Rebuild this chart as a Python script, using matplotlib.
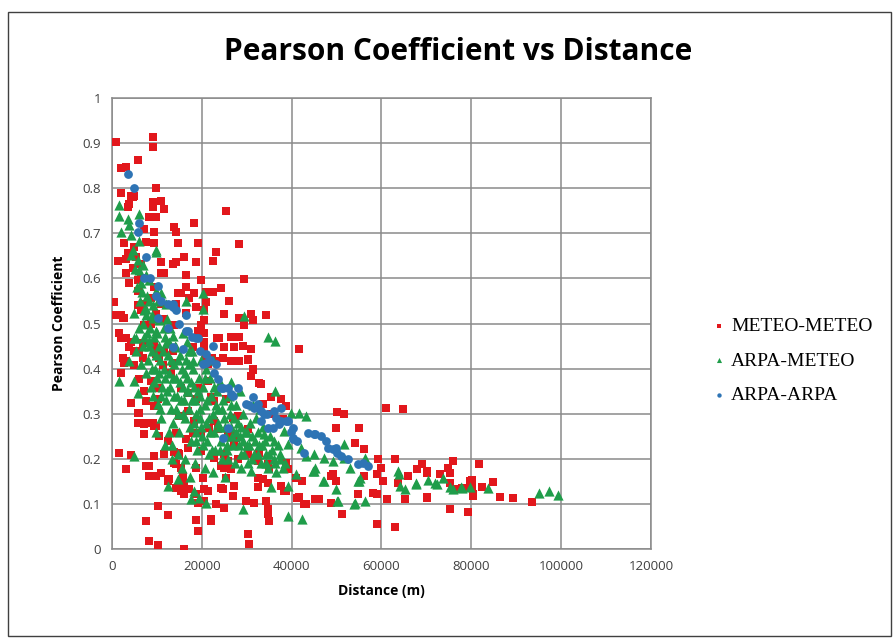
import matplotlib.pyplot as plt
from matplotlib.patches import Rectangle

# (distance m, pearson coefficient)
meteo_pts = [
    (900, 0.902), (9100, 0.913), (9100, 0.891), (5800, 0.862), (2000, 0.844), (3100, 0.847),
    (9800, 0.80), (2000, 0.789), (4200, 0.782), (4900, 0.782), (3800, 0.764), (9100, 0.769),
    (9100, 0.758), (10900, 0.771), (11600, 0.753), (8200, 0.736), (9800, 0.736), (18200, 0.722),
    (13800, 0.713), (14200, 0.702), (9300, 0.702), (7100, 0.709), (2700, 0.678), (7600, 0.68),
    (9300, 0.678), (14700, 0.678), (19100, 0.678), (23100, 0.658), (25300, 0.749), (28200, 0.676),
    (22400, 0.638), (29300, 0.598), (16000, 0.647), (13600, 0.633), (10900, 0.636), (1300, 0.638),
    (16400, 0.607), (19800, 0.596), (24200, 0.578), (21600, 0.569), (22400, 0.569), (26000, 0.551),
    (24900, 0.522), (30900, 0.522), (34200, 0.518), (400, 0.547), (2400, 0.513), (4700, 0.78),
    (3600, 0.758), (4900, 0.669), (3600, 0.656), (5300, 0.647), (4700, 0.624), (6400, 0.633),
    (3100, 0.613), (6400, 0.602), (3800, 0.589), (5800, 0.573), (9300, 0.58), (8700, 0.556),
    (6900, 0.544), (10900, 0.544), (14200, 0.544), (15300, 0.567), (17100, 0.556), (20400, 0.529),
    (18700, 0.536), (16400, 0.524), (20900, 0.547), (3100, 0.644), (14200, 0.636), (18700, 0.636),
    (11600, 0.611), (10900, 0.611), (5800, 0.596), (20900, 0.569), (18200, 0.567), (14700, 0.567),
    (16400, 0.58), (5800, 0.54), (2700, 0.513), (1600, 0.478), (2700, 0.467), (4200, 0.458),
    (6900, 0.456), (4900, 0.44), (6000, 0.44), (9300, 0.451), (10400, 0.424), (6900, 0.424),
    (3100, 0.418), (20900, 0.424), (23100, 0.418), (20400, 0.507), (20400, 0.48), (20400, 0.46),
    (23800, 0.467), (26400, 0.471), (28200, 0.471), (24900, 0.449), (27100, 0.449), (29100, 0.451),
    (30900, 0.444), (41600, 0.444), (24700, 0.424), (26400, 0.418), (28200, 0.418), (30200, 0.42),
    (31300, 0.40), (30900, 0.384), (33100, 0.367), (28200, 0.513), (31300, 0.507), (29300, 0.496),
    (2700, 0.413), (9800, 0.433), (11600, 0.44), (13600, 0.44), (13100, 0.391), (8700, 0.373),
    (10200, 0.356), (6000, 0.378), (7100, 0.351), (7600, 0.329), (6000, 0.302), (10200, 0.333),
    (9300, 0.318), (9100, 0.28), (9800, 0.273), (7100, 0.278), (5800, 0.28), (7100, 0.256),
    (10400, 0.251), (14200, 0.258), (18000, 0.258), (19800, 0.258), (14900, 0.296), (16900, 0.307),
    (18200, 0.284), (21600, 0.269), (23600, 0.267), (25800, 0.258), (27600, 0.247), (30200, 0.224),
    (32700, 0.213), (18700, 0.333), (22000, 0.336), (19800, 0.496), (19100, 0.484), (18000, 0.447),
    (20400, 0.447), (23300, 0.469), (22200, 0.424), (30200, 0.422), (31300, 0.396), (32700, 0.369),
    (35300, 0.336), (37600, 0.333), (21300, 0.411), (21300, 0.373), (19100, 0.358), (15300, 0.358),
    (16900, 0.347), (22700, 0.329), (25300, 0.333), (22700, 0.284), (26900, 0.291), (28000, 0.296),
    (30200, 0.267), (30200, 0.211), (25800, 0.196), (28000, 0.20), (19800, 0.218), (22700, 0.202),
    (14900, 0.211), (16900, 0.224), (12400, 0.24), (16400, 0.244), (11300, 0.407), (13600, 0.413),
    (4900, 0.407), (2000, 0.391), (13800, 0.496), (9800, 0.522), (11600, 0.511), (7100, 0.496),
    (8700, 0.50), (2000, 0.469), (3100, 0.469), (3800, 0.447), (2400, 0.424), (200, 0.518),
    (2000, 0.518), (6400, 0.529), (4200, 0.324), (5800, 0.302), (7600, 0.28), (9300, 0.273),
    (1600, 0.213), (4200, 0.209), (3100, 0.178), (7600, 0.184), (8200, 0.184), (9300, 0.207),
    (11600, 0.211), (13800, 0.216), (13800, 0.191), (8200, 0.162), (9800, 0.162), (10900, 0.169),
    (12400, 0.151), (15300, 0.18), (15800, 0.162), (16000, 0.147), (14200, 0.136), (15300, 0.129),
    (16000, 0.122), (18700, 0.18), (20200, 0.158), (20400, 0.133), (10200, 0.096), (12400, 0.076),
    (7600, 0.062), (18700, 0.064), (22000, 0.062), (19100, 0.04), (8200, 0.018), (10200, 0.009),
    (16000, 0.0), (14700, 0.213), (14200, 0.189), (12700, 0.156), (15300, 0.151), (17100, 0.133),
    (18700, 0.122), (19100, 0.102), (21300, 0.129), (20400, 0.107), (24200, 0.136), (23100, 0.10),
    (24900, 0.091), (22000, 0.067), (26900, 0.118), (29800, 0.107), (31600, 0.102), (34200, 0.107),
    (30200, 0.033), (30400, 0.011), (32400, 0.158), (34700, 0.147), (24200, 0.184), (26400, 0.178),
    (37600, 0.14), (38700, 0.318), (33600, 0.322), (50200, 0.304), (51600, 0.30), (49800, 0.269),
    (54200, 0.236), (35300, 0.30), (38000, 0.289), (26900, 0.256), (27100, 0.236), (24900, 0.18),
    (25300, 0.158), (27100, 0.14), (24700, 0.133), (32400, 0.138), (34700, 0.089), (34700, 0.078),
    (34900, 0.062), (38200, 0.129), (41600, 0.116), (43100, 0.10), (46000, 0.111), (48700, 0.162),
    (49300, 0.167), (49800, 0.151), (51300, 0.078), (48700, 0.102), (38700, 0.191), (40900, 0.158),
    (42400, 0.151), (32400, 0.196), (34700, 0.189), (34900, 0.178), (24900, 0.211), (33600, 0.156),
    (60900, 0.313), (64900, 0.311), (54900, 0.269), (56000, 0.222), (59300, 0.20), (63100, 0.20),
    (69100, 0.189), (76000, 0.196), (68000, 0.178), (70200, 0.173), (74700, 0.18), (59100, 0.167),
    (60400, 0.151), (66000, 0.162), (63600, 0.147), (54700, 0.122), (59100, 0.122), (61300, 0.111),
    (65300, 0.111), (70200, 0.113), (75300, 0.089), (79300, 0.082), (59100, 0.056), (63100, 0.049),
    (42700, 0.10), (45300, 0.111), (79800, 0.151), (80400, 0.122), (81600, 0.189), (75300, 0.169),
    (70200, 0.169), (73100, 0.167), (80200, 0.153), (84900, 0.149), (82400, 0.138), (76900, 0.133),
    (78000, 0.136), (79100, 0.136), (80400, 0.118), (86400, 0.116), (89300, 0.113), (93600, 0.104),
    (70200, 0.116), (39100, 0.178), (38700, 0.129), (41300, 0.113), (49100, 0.167), (56000, 0.162),
    (58200, 0.124), (59800, 0.18), (75300, 0.147), (80200, 0.14),
]

arpa_meteo_pts = [
    (1600, 0.762), (1600, 0.738), (3600, 0.731), (3800, 0.718), (6000, 0.742), (2000, 0.702),
    (4200, 0.696), (6000, 0.684), (9800, 0.662), (4700, 0.662), (4200, 0.651), (9800, 0.658),
    (6900, 0.629), (6000, 0.618), (7600, 0.607), (8200, 0.596), (6400, 0.589), (9800, 0.573),
    (10900, 0.567), (8200, 0.551), (9100, 0.54), (7600, 0.533), (12000, 0.544), (4900, 0.524),
    (7600, 0.518), (9100, 0.513), (10400, 0.507), (20200, 0.567), (20200, 0.533), (16400, 0.551),
    (6000, 0.491), (9800, 0.484), (11600, 0.489), (13600, 0.473), (8200, 0.462), (12000, 0.456),
    (14200, 0.447), (4900, 0.469), (3800, 0.418), (17100, 0.44), (18000, 0.418), (29300, 0.516),
    (34700, 0.471), (36200, 0.462), (1600, 0.373), (5800, 0.347), (10200, 0.322), (4900, 0.207),
    (4900, 0.373), (5300, 0.469), (14700, 0.156), (12400, 0.14), (18200, 0.129), (17600, 0.111),
    (19300, 0.113), (20900, 0.102), (36400, 0.351), (39800, 0.302), (41600, 0.302), (43100, 0.296),
    (38200, 0.262), (29100, 0.089), (39100, 0.073), (42400, 0.067), (35300, 0.138), (49800, 0.133),
    (50200, 0.107), (53800, 0.10), (51600, 0.233), (54700, 0.151), (47100, 0.151), (44700, 0.173),
    (28700, 0.18), (30900, 0.173), (43100, 0.207), (45300, 0.18), (33800, 0.256), (36000, 0.24),
    (63800, 0.167), (65300, 0.133), (67600, 0.147), (70400, 0.153), (72000, 0.147), (73800, 0.158),
    (76000, 0.133), (78000, 0.136), (54900, 0.151), (56400, 0.202), (50400, 0.107), (54200, 0.102),
    (56400, 0.107), (63600, 0.173), (67600, 0.144), (72400, 0.144), (75300, 0.138), (77600, 0.138),
    (79800, 0.138), (83800, 0.136), (64200, 0.14), (95100, 0.124), (97300, 0.129), (99300, 0.12),
    (39100, 0.233), (42000, 0.224), (44900, 0.211), (47100, 0.202), (49100, 0.196), (51600, 0.202),
    (53100, 0.18), (55300, 0.158), (44900, 0.173), (40900, 0.167), (46900, 0.151), (39100, 0.14),
    (5200, 0.62), (5600, 0.58), (6200, 0.55), (6800, 0.50), (7200, 0.47), (5400, 0.44),
    (6500, 0.41), (7500, 0.39), (7000, 0.45), (8000, 0.42), (8400, 0.49), (7800, 0.56),
    (8600, 0.36), (9000, 0.44), (9400, 0.47), (9600, 0.40), (10000, 0.38), (10400, 0.45),
    (10800, 0.42), (11200, 0.36), (11500, 0.40), (11800, 0.47), (12000, 0.33), (9200, 0.34),
    (10600, 0.31), (11000, 0.29), (8800, 0.52), (12200, 0.51), (10300, 0.55), (12500, 0.43),
    (12800, 0.39), (13000, 0.36), (13200, 0.31), (13500, 0.28), (13700, 0.41), (14000, 0.45),
    (14200, 0.38), (14500, 0.34), (14800, 0.30), (15000, 0.26), (15200, 0.43), (15500, 0.40),
    (15700, 0.36), (16000, 0.33), (16200, 0.29), (12600, 0.26), (13400, 0.23), (14600, 0.21),
    (15800, 0.48), (13000, 0.49), (16500, 0.42), (16800, 0.38), (17000, 0.35), (17200, 0.31),
    (17400, 0.27), (17600, 0.24), (18000, 0.40), (18200, 0.36), (18400, 0.33), (18600, 0.30),
    (18800, 0.26), (19000, 0.22), (19300, 0.38), (19500, 0.34), (19700, 0.29), (20000, 0.25),
    (16600, 0.46), (17800, 0.44), (16300, 0.20), (19900, 0.42), (18500, 0.19), (20300, 0.36),
    (20600, 0.32), (20900, 0.28), (21200, 0.24), (21500, 0.21), (21800, 0.38), (22100, 0.34),
    (22400, 0.30), (22700, 0.26), (23000, 0.22), (23300, 0.35), (23600, 0.31), (23900, 0.27),
    (24200, 0.24), (24500, 0.20), (24800, 0.33), (21000, 0.40), (22500, 0.42), (24000, 0.37),
    (25000, 0.29), (25400, 0.25), (25700, 0.22), (26000, 0.34), (26300, 0.30), (26600, 0.27),
    (27000, 0.23), (27300, 0.19), (27600, 0.32), (28000, 0.28), (28400, 0.25), (28800, 0.21),
    (29200, 0.30), (29600, 0.26), (30000, 0.23), (26500, 0.37), (28500, 0.35), (30300, 0.19),
    (30800, 0.28), (31200, 0.25), (31600, 0.21), (32000, 0.29), (32400, 0.26), (32800, 0.23),
    (33200, 0.19), (33600, 0.27), (34000, 0.24), (34400, 0.21), (34800, 0.18), (35200, 0.25),
    (35600, 0.22), (36000, 0.20), (36500, 0.17), (37000, 0.23), (37500, 0.20), (38000, 0.18),
    (31500, 0.32), (33000, 0.31),
    (5900, 0.64), (6600, 0.57), (7100, 0.53), (7900, 0.48), (8300, 0.45), (8900, 0.40),
    (9300, 0.37), (9700, 0.43), (10100, 0.48), (10500, 0.39), (11000, 0.34), (11400, 0.44),
    (11900, 0.38), (12300, 0.35), (12700, 0.46), (13100, 0.42), (13600, 0.38), (13900, 0.34),
    (14300, 0.31), (14700, 0.42), (15100, 0.37), (15400, 0.33), (15900, 0.30), (16300, 0.39),
    (16700, 0.35), (17100, 0.41), (17500, 0.37), (17900, 0.33), (18300, 0.28), (18700, 0.24),
    (19100, 0.35), (19500, 0.31), (19900, 0.27), (20300, 0.23), (20700, 0.38), (21100, 0.33),
    (21500, 0.29), (21900, 0.26), (22300, 0.22), (22800, 0.36), (23200, 0.32), (23700, 0.28),
    (24100, 0.22), (24600, 0.31), (25100, 0.27), (25500, 0.23), (25900, 0.20), (26400, 0.32),
    (26800, 0.25), (27200, 0.29), (27700, 0.26), (28200, 0.23), (28700, 0.27), (29100, 0.24),
    (29500, 0.21), (30100, 0.26), (30600, 0.23), (31100, 0.20), (31900, 0.24), (32600, 0.21),
    (33400, 0.23), (34200, 0.19), (35000, 0.21), (36200, 0.19), (37300, 0.21), (38600, 0.19),
    (9900, 0.26), (11700, 0.23), (13300, 0.20), (15600, 0.18), (17300, 0.16), (20600, 0.18),
    (22600, 0.17), (25200, 0.16),
]

arpa_arpa_pts = [
    (3600, 0.831), (4900, 0.80), (6000, 0.724), (5800, 0.702), (7600, 0.647), (7100, 0.60),
    (10200, 0.584), (9800, 0.562), (12400, 0.544), (13600, 0.536), (14200, 0.529), (16400, 0.518),
    (16900, 0.484), (18700, 0.467), (15800, 0.444), (13600, 0.447), (20900, 0.433), (22400, 0.451),
    (20200, 0.411), (23100, 0.411), (24200, 0.356), (26400, 0.344), (29800, 0.322), (31600, 0.313),
    (33100, 0.284), (33800, 0.30), (35800, 0.269), (37100, 0.278), (38700, 0.284), (40200, 0.244),
    (41300, 0.24), (43600, 0.258), (45300, 0.256), (47600, 0.24), (49100, 0.222), (50200, 0.213),
    (50900, 0.207), (42700, 0.213), (25800, 0.269), (24700, 0.247), (37600, 0.313), (39100, 0.284),
    (40400, 0.269), (44900, 0.256), (48200, 0.224), (49800, 0.224), (54700, 0.189), (57100, 0.184),
    (16400, 0.484), (19100, 0.467), (20900, 0.413), (23600, 0.378), (24700, 0.358), (25800, 0.356),
    (28000, 0.358), (31300, 0.336), (32400, 0.322), (33100, 0.307), (36000, 0.307), (37600, 0.284),
    (34700, 0.269), (40400, 0.247), (12400, 0.491), (10200, 0.513), (13600, 0.543),
    (8500, 0.60), (11000, 0.55), (15000, 0.50), (17800, 0.47), (19500, 0.44), (21800, 0.42),
    (22700, 0.39), (27000, 0.34), (30500, 0.32), (34500, 0.30), (36500, 0.29), (39800, 0.26),
    (46500, 0.25), (52500, 0.20), (55800, 0.19),
]

fig = plt.figure(figsize=(8.93, 6.39), dpi=100)
fig.patches.append(Rectangle((0.009, 0.004), 0.989, 0.977, transform=fig.transFigure,
                             fill=False, edgecolor='#404040', linewidth=1.0))
ax = fig.add_axes([0.1254, 0.1408, 0.6036, 0.7058])

ax.scatter([p[0] for p in meteo_pts], [p[1] for p in meteo_pts], marker='s', s=36,
           color='#e2171c', linewidths=0, label='METEO-METEO', zorder=3)
ax.scatter([p[0] for p in arpa_meteo_pts], [p[1] for p in arpa_meteo_pts], marker='^', s=54,
           color='#1f9d4a', linewidths=0, label='ARPA-METEO', zorder=4)
ax.scatter([p[0] for p in arpa_arpa_pts], [p[1] for p in arpa_arpa_pts], marker='o', s=40,
           color='#2e74b5', linewidths=0, label='ARPA-ARPA', zorder=5)

ax.set_xlim(0, 120000)
ax.set_ylim(0, 1)
ax.set_xticks(range(0, 120001, 20000))
ax.set_yticks([i / 10 for i in range(11)])
ax.set_yticklabels(['0', '0.1', '0.2', '0.3', '0.4', '0.5', '0.6', '0.7', '0.8', '0.9', '1'])
ax.tick_params(length=0, labelsize=9.5, colors='#404040', pad=8)
for lbl in ax.get_xticklabels() + ax.get_yticklabels():
    lbl.set_family('Open Sans')
ax.grid(True, color='#8a8a8a', linewidth=1.1)
ax.set_axisbelow(True)
for sp in ax.spines.values():
    sp.set_color('#8a8a8a')
    sp.set_linewidth(1.1)

ax.set_xlabel('Distance (m)', fontsize=10, fontweight='bold', family='Open Sans', labelpad=8)
ax.set_ylabel('Pearson Coefficient', fontsize=10, fontweight='bold', family='Open Sans', labelpad=12)
fig.text(0.513, 0.918, 'Pearson Coefficient vs Distance', ha='center', va='center',
         fontsize=21.5, fontweight='bold', family='Open Sans')

fig.legend(loc='upper left', bbox_to_anchor=(0.775, 0.53), frameon=False,
           prop={'family': 'Liberation Serif', 'size': 14}, markerscale=0.5,
           handletextpad=0.1, labelspacing=0.85, handlelength=1.0)

fig.savefig('out.png', dpi=100, facecolor='white')
